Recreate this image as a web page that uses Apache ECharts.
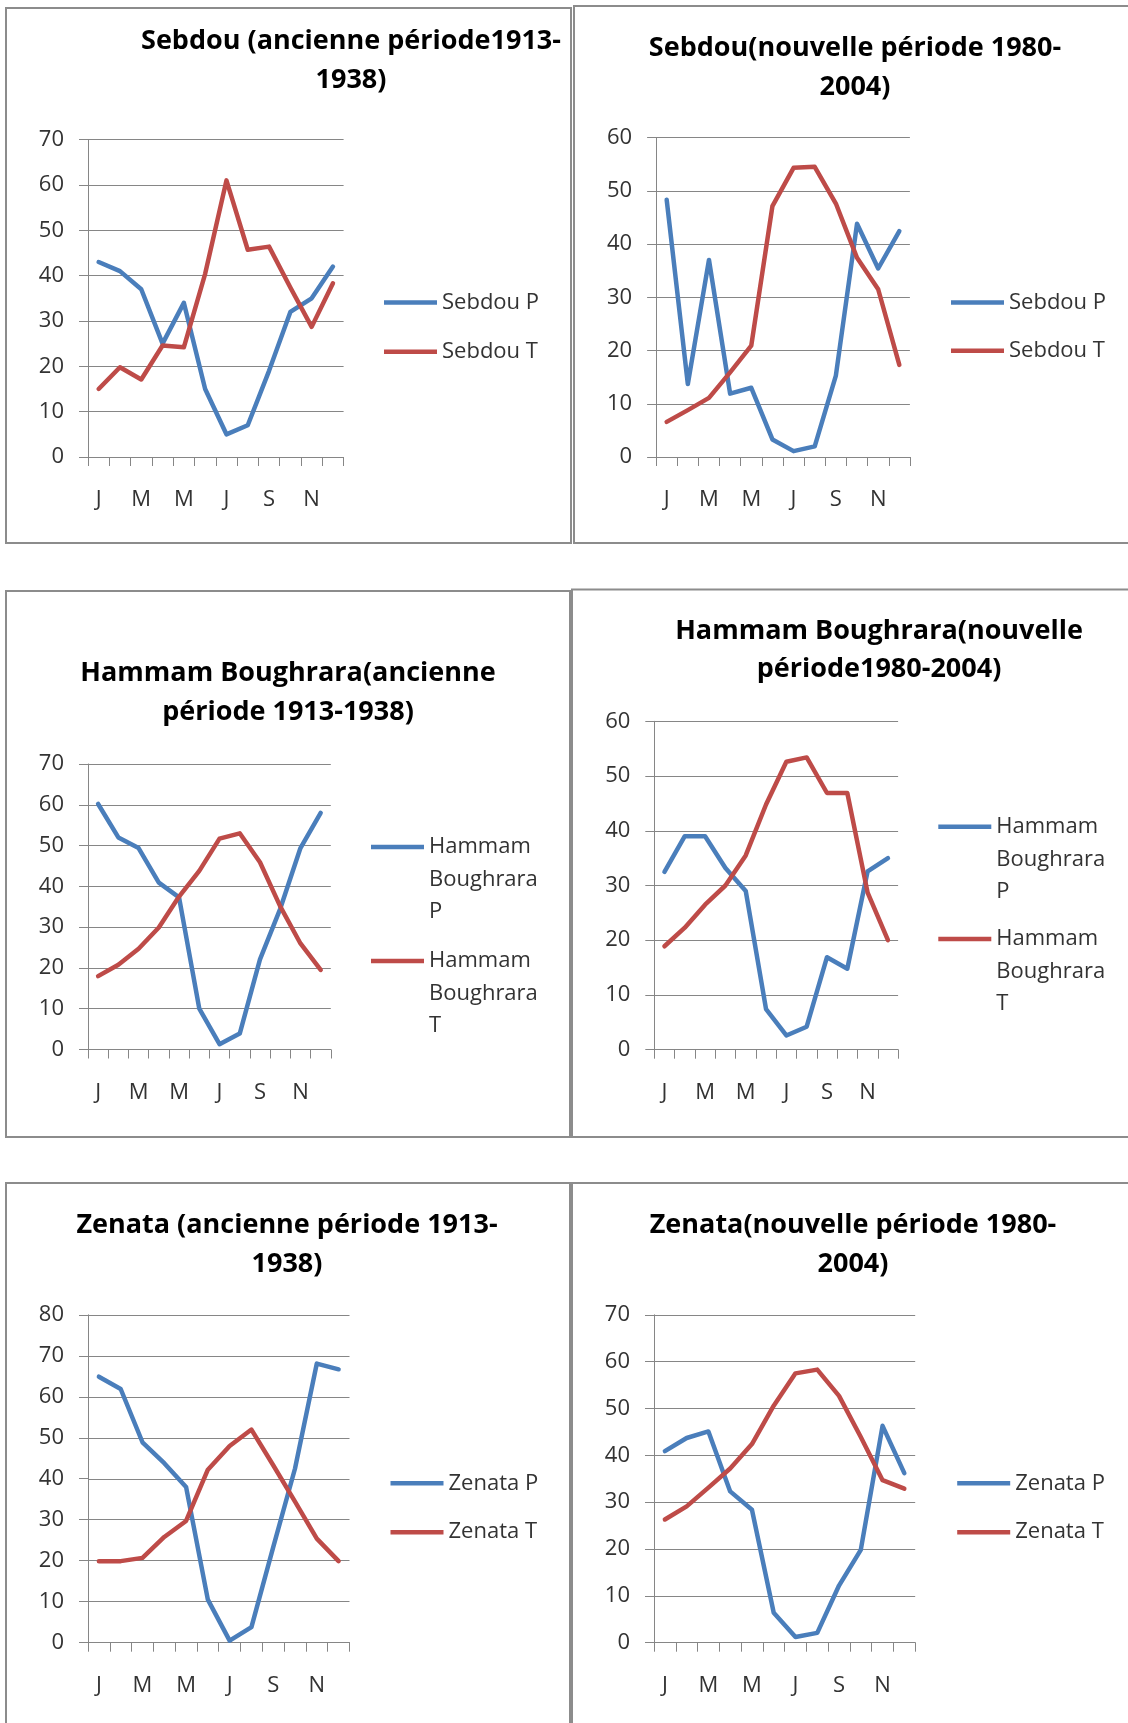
<!DOCTYPE html>
<html>
<head>
<meta charset="utf-8">
<title>Diagrammes ombrothermiques</title>
<script src="https://cdn.jsdelivr.net/npm/echarts@6/dist/echarts.min.js"></script>
<style>
    html, body { margin: 0; padding: 0; background: #fff; }
    #main { width: 1128px; height: 1723px; }
</style>
</head>
<body>
<div id="main"></div>
<script>
// mois (initiales)
var months = ['J', 'F', 'M', 'A', 'M', 'J', 'J', 'A', 'S', 'O', 'N', 'D'];

// Sebdou
var sebdouAncP = [43, 41, 37, 25, 34, 15, 5, 7, 19, 32, 35, 42];
var sebdouAncT = [15, 19.8, 17.1, 24.6, 24.2, 40.4, 61, 45.7, 46.4, 37.4, 28.7, 38.3];
var sebdouNouvP = [48.3, 13.7, 37, 11.9, 13, 3.3, 1.1, 2, 15.3, 43.8, 35.4, 42.4];
var sebdouNouvT = [6.6, 8.8, 11.1, 15.9, 20.9, 47.1, 54.3, 54.5, 47.6, 37.4, 31.5, 17.3];

// Hammam Boughrara
var hammamAncP = [60.2, 52, 49.4, 40.9, 37.3, 10, 1.3, 3.9, 22.1, 34.5, 49.4, 58];
var hammamAncT = [18, 20.8, 24.7, 29.9, 37.5, 43.8, 51.7, 53, 45.9, 35.1, 26, 19.5];
var hammamNouvP = [32.5, 39, 39, 33.2, 29, 7.4, 2.6, 4.2, 16.9, 14.8, 32.6, 35];
var hammamNouvT = [18.9, 22.3, 26.5, 30, 35.5, 44.8, 52.6, 53.4, 46.9, 46.9, 28.7, 20];

// Zenata
var zenataAncP = [64.9, 61.9, 48.9, 43.8, 38, 10.5, 0.5, 3.8, 23.3, 42.5, 68.1, 66.7];
var zenataAncT = [19.9, 19.9, 20.7, 25.8, 29.7, 42.2, 48, 52, 43.3, 34.4, 25.4, 19.9];
var zenataNouvP = [40.9, 43.7, 45.1, 32.3, 28.4, 6.4, 1.2, 2.1, 12.2, 19.8, 46.3, 36.2];
var zenataNouvT = [26.3, 29.1, 33.1, 37.2, 42.4, 50.6, 57.5, 58.3, 52.7, 43.9, 34.7, 32.9];

var titles = [
    'Sebdou (ancienne période1913-\n1938)',
    'Sebdou(nouvelle période 1980-\n2004)',
    'Hammam Boughrara(ancienne\npériode 1913-1938)',
    'Hammam Boughrara(nouvelle\npériode1980-2004)',
    'Zenata (ancienne période 1913-\n1938)',
    'Zenata(nouvelle période 1980-\n2004)'
];
var stations = ['Sebdou', 'Sebdou', 'Hammam Boughrara', 'Hammam Boughrara', 'Zenata', 'Zenata'];
var yMax = [70, 60, 70, 60, 80, 70];
var valuesP = [sebdouAncP, sebdouNouvP, hammamAncP, hammamNouvP, zenataAncP, zenataNouvP];
var valuesT = [sebdouAncT, sebdouNouvT, hammamAncT, hammamNouvT, zenataAncT, zenataNouvT];

// mise en page (px) de chaque cadre
var layout = [
    {box: [6, 8, 571, 543],    grid: [88, 139.6, 255.6, 317.4],    title: [351, 22.2],   legX: 384,   legP: 302.4,  legT: 351.8},
    {box: [574, 6, 1132, 543], grid: [656.1, 137.5, 253.8, 319.5], title: [855, 29.2],   legX: 951,   legP: 302.4,  legT: 350.8},
    {box: [6, 591, 570, 1137], grid: [88, 764, 242.8, 285.5],      title: [288, 654.3],  legX: 371,   legP: 847,    legT: 960.9},
    {box: [572, 589.5, 1132, 1137], grid: [654.3, 721.3, 243.8, 328.4], title: [879, 611.8], legX: 938.3, legP: 826.8, legT: 939},
    {box: [6, 1183, 570, 1730], grid: [88, 1314.8, 261.5, 327.9],  title: [287, 1206.5], legX: 390.5, legP: 1483.3, legT: 1532.2},
    {box: [572, 1183, 1132, 1730], grid: [654, 1314.8, 261.2, 327.9], title: [853, 1206.5], legX: 957.2, legP: 1483.3, legT: 1532.2}
];

var FONT = '"Open Sans", "Liberation Sans", sans-serif';
var BLUE = '#4A7EBB', RED = '#BE4B48', GRAY = '#868686', TXT = '#333333';
var LH = 32.5;

var option = {
    animation: false,
    backgroundColor: '#ffffff',
    title: [], legend: [], grid: [], xAxis: [], yAxis: [], series: [], graphic: []
};

// texte de légende sur 3 lignes, la 1re ligne alignée sur le trait
function wrapName(n) {
    return '\n\n' + n.split(' ').join('\n');
}

for (var i = 0; i < 6; i++) {
    var L = layout[i];
    var multi = stations[i].indexOf(' ') > 0;

    // cadre
    option.graphic.push({
        type: 'rect',
        shape: {x: L.box[0], y: L.box[1], width: L.box[2] - L.box[0], height: L.box[3] - L.box[1]},
        style: {fill: 'none', stroke: '#8c8c8c', lineWidth: 2},
        z: 0
    });

    option.title.push({
        text: titles[i],
        left: L.title[0],
        top: L.title[1],
        padding: 0,
        textAlign: 'center',
        textVerticalAlign: 'top',
        textStyle: {fontFamily: FONT, fontWeight: 'bold', fontSize: 27, lineHeight: 38.5, color: '#000'}
    });

    option.grid.push({left: L.grid[0], top: L.grid[1], width: L.grid[2], height: L.grid[3], containLabel: false});

    option.xAxis.push({
        type: 'category',
        gridIndex: i,
        data: months,
        boundaryGap: true,
        axisLine: {lineStyle: {color: GRAY, width: 1}},
        axisTick: {show: true, interval: 0, length: 9, lineStyle: {color: GRAY}},
        axisLabel: {interval: 1, margin: 31, fontFamily: FONT, fontSize: 22, lineHeight: 24, color: TXT},
        splitLine: {show: false}
    });

    option.yAxis.push({
        type: 'value',
        gridIndex: i,
        min: 0,
        max: yMax[i],
        interval: 10,
        axisLine: {show: true, lineStyle: {color: GRAY, width: 1}},
        axisTick: {show: true, length: 9, lineStyle: {color: GRAY}},
        axisLabel: {margin: 24, fontFamily: FONT, fontSize: 22, color: TXT},
        splitLine: {show: true, lineStyle: {color: GRAY, width: 1}}
    });

    var names = [stations[i] + ' P', stations[i] + ' T'];
    var vals = [valuesP[i], valuesT[i]];
    var cols = [BLUE, RED];
    var legY = [L.legP, L.legT];

    for (var k = 0; k < 2; k++) {
        option.series.push({
            name: names[k],
            type: 'line',
            xAxisIndex: i,
            yAxisIndex: i,
            data: vals[k],
            symbol: 'none',
            color: cols[k],
            lineStyle: {color: cols[k], width: 4.5, cap: 'round', join: 'round'},
            z: 3 + k
        });

        // une légende par série pour placer chaque entrée
        var half = multi ? 5 * LH / 2 : LH / 2;
        option.legend.push({
            data: [names[k]],
            left: L.legX,
            top: legY[k] - half,
            padding: 0,
            itemGap: 0,
            icon: 'rect',
            itemWidth: 53,
            itemHeight: 4.5,
            selectedMode: false,
            formatter: multi ? wrapName : '{name}',
            textStyle: {fontFamily: FONT, fontSize: 22, color: TXT, lineHeight: LH}
        });
    }
}

var chart = echarts.init(document.getElementById('main'));
chart.setOption(option);
</script>
</body>
</html>
